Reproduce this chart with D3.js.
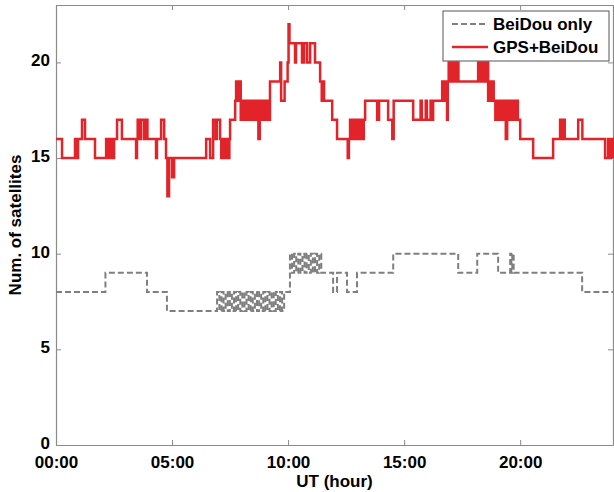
<!DOCTYPE html>
<html>
<head>
<meta charset="utf-8">
<script src="https://cdn.jsdelivr.net/npm/d3@7"></script>
<style>
  html, body { margin: 0; padding: 0; background: #fff; }
  svg { display: block; font-family: "Liberation Sans", Arial, sans-serif; }
</style>
</head>
<body>
<div id="svgOutput"></div>
<script>
// data: step change points (hour, number of satellites)

const gpsTimes = [0, 0.26, 0.82, 0.90, 0.95, 1.12, 1.25, 1.68, 2.16, 2.22, 2.28, 2.34, 2.40, 2.46, 2.50, 2.63, 2.84,
  3.45, 3.49, 3.52, 3.62, 3.66, 3.79, 3.88, 3.94, 4.31, 4.35, 4.53, 4.66, 4.74, 4.80, 4.87, 5.00, 5.09,
  6.47, 6.64, 6.77, 6.88, 6.93, 7.07, 7.12, 7.17, 7.22, 7.27, 7.32, 7.37, 7.42, 7.47, 7.50,
  7.72, 7.76, 7.80, 7.84, 7.88, 7.92, 7.96, 8.00, 8.05, 8.10, 8.15, 8.20, 8.25, 8.30, 8.35, 8.40, 8.45, 8.50,
  8.56, 8.62, 8.72, 8.78, 8.84, 8.90, 8.95, 9.00, 9.05, 9.10, 9.15, 9.22,
  9.66, 9.70, 9.85, 9.98, 10.02, 10.06, 10.30, 10.34, 10.60, 10.69, 10.82, 10.95, 11.16, 11.38, 11.45, 11.50, 11.55,
  11.90, 12.11, 12.57, 12.62, 12.67, 12.72, 12.78, 12.84, 12.90, 12.96, 13.02, 13.08, 13.14, 13.20, 13.26, 13.32,
  13.84, 13.92, 14.31, 14.49, 14.55, 15.39, 15.71, 15.76, 15.93, 15.98, 16.14, 16.19, 16.25,
  16.64, 16.70, 16.76, 16.82, 16.85, 16.88, 16.92, 16.98, 17.04, 17.10, 17.16, 17.22, 17.28, 17.34,
  18.19, 18.25, 18.31, 18.37, 18.43, 18.49, 18.55, 18.62, 18.68, 18.74, 18.80, 18.86, 18.93, 18.99, 19.05, 19.12,
  19.22, 19.30, 19.38, 19.44, 19.52, 19.60, 19.70, 19.80, 19.90, 20.00, 20.56, 21.42, 21.72, 21.78, 21.84, 21.92,
  22.50, 22.68, 23.66, 23.79, 23.85, 23.91, 24];
const gpsValues = [16, 15, 16, 15, 16, 17, 16, 15, 16, 15, 16, 15, 16, 15, 16, 17, 16,
  15, 16, 17, 16, 17, 16, 17, 16, 15, 16, 17, 16, 15, 13, 15, 14, 15,
  16, 15, 17, 16, 17, 16, 15, 16, 15, 16, 15, 16, 15, 16, 17,
  18, 19, 18, 19, 18, 19, 17, 18, 17, 18, 17, 18, 17, 18, 17, 18, 17, 18,
  17, 18, 16, 18, 17, 18, 17, 18, 17, 18, 17, 19,
  20, 18, 19, 20, 22, 21, 20, 21, 20, 21, 20, 21, 20, 19, 18, 19, 18,
  17, 16, 15, 16, 17, 16, 17, 16, 17, 16, 17, 16, 17, 16, 17, 18,
  17, 18, 17, 16, 18, 17, 18, 17, 18, 17, 18, 17, 18,
  19, 18, 19, 18, 17, 19, 20, 19, 20, 19, 20, 19, 20, 19,
  20, 19, 20, 19, 20, 19, 20, 18, 19, 18, 19, 18, 17, 18, 17, 18,
  17, 18, 16, 18, 17, 18, 17, 18, 17, 16, 15, 16, 17, 16, 17, 16,
  17, 16, 15, 16, 15, 16, 15];

const bdsTimes = [0, 2.13, 3.92, 4.78,
  6.94, 7.04, 7.13, 7.22, 7.31, 7.40, 7.49, 7.58, 7.67, 7.76, 7.85, 7.94, 8.03, 8.12, 8.21, 8.30,
  8.39, 8.48, 8.57, 8.66, 8.75, 8.84, 8.93, 9.02, 9.11, 9.20, 9.29, 9.38, 9.47, 9.56, 9.65, 9.74, 9.83,
  9.96, 10.08, 10.17, 10.26, 10.35, 10.44, 10.53, 10.62, 10.71, 10.80, 10.89, 10.98, 11.07, 11.16, 11.25, 11.34, 11.43,
  11.51, 11.94, 12.11, 12.54, 12.97, 14.53, 17.33, 18.15, 19.05, 19.57, 19.62, 19.66, 19.72, 22.67, 24];
const bdsValues = [8, 9, 8, 7,
  8, 7, 8, 7, 8, 7, 8, 7, 8, 7, 8, 7, 8, 7, 8, 7,
  8, 7, 8, 7, 8, 7, 8, 7, 8, 7, 8, 7, 8, 7, 8, 7, 8,
  8, 10, 9, 10, 9, 10, 9, 10, 9, 10, 9, 10, 9, 10, 9, 10, 9,
  9, 8, 9, 8, 9, 10, 9, 10, 9, 10, 9, 10, 9, 8, 8];

const xTickValues = [0, 5, 10, 15, 20];
const xTickLabels = ["00:00", "05:00", "10:00", "15:00", "20:00"];
const yTickValues = [0, 5, 10, 15, 20];
const legendNames = ["BeiDou only", "GPS+BeiDou"];

// config

const width = 614;
const height = 492;
const margin = { top: 5, right: 1, bottom: 47, left: 56 };

const gpsData = gpsTimes.map((t, i) => ({ t: t, v: gpsValues[i] }));
const bdsData = bdsTimes.map((t, i) => ({ t: t, v: bdsValues[i] }));

// scales

const xScale = d3.scaleLinear()
  .domain([0, 24])
  .range([margin.left, width - margin.right]);

const yScale = d3.scaleLinear()
  .domain([0, 23])
  .range([height - margin.bottom, margin.top]);

const svg = d3.select("#svgOutput")
  .append("svg")
  .attr("width", width)
  .attr("height", height)
  .attr("viewBox", [0, 0, width, height]);

const axisColor = "#8a8a8a";

// axes, matlab box style with inward ticks

const xAxis = d3.axisBottom(xScale)
  .tickValues(xTickValues)
  .tickFormat((d, i) => xTickLabels[i])
  .tickSizeInner(-5)
  .tickSizeOuter(0)
  .tickPadding(11);

const gx = svg.append("g")
  .attr("transform", "translate(0," + (height - margin.bottom) + ")")
  .call(xAxis);

const yAxis = d3.axisLeft(yScale)
  .tickValues(yTickValues)
  .tickSizeInner(-5)
  .tickSizeOuter(0)
  .tickPadding(6);

const gy = svg.append("g")
  .attr("transform", "translate(" + margin.left + ",0)")
  .call(yAxis);

const gTop = svg.append("g")
  .attr("transform", "translate(0," + margin.top + ")")
  .call(d3.axisTop(xScale).tickValues(xTickValues).tickFormat("").tickSizeInner(-5).tickSizeOuter(0));

const gRight = svg.append("g")
  .attr("transform", "translate(" + (width - margin.right) + ",0)")
  .call(d3.axisRight(yScale).tickValues(yTickValues).tickFormat("").tickSizeInner(-5).tickSizeOuter(0));

[gx, gy, gTop, gRight].forEach(g => {
  g.selectAll(".domain").attr("stroke", axisColor).attr("stroke-width", 1.2);
  g.selectAll(".tick line").attr("stroke", axisColor);
  g.selectAll(".tick text")
    .attr("fill", "#000")
    .attr("font-size", 17)
    .attr("font-weight", "bold");
});

// matlab lifts the zero label a little off the x labels
gy.selectAll(".tick text").attr("dy", "0.2em");

// lines

const line = d3.line()
  .x(d => xScale(d.t))
  .y(d => yScale(d.v))
  .curve(d3.curveStepAfter);

svg.append("path")
  .attr("d", line(gpsData))
  .attr("fill", "none")
  .attr("stroke", "#e3232a")
  .attr("stroke-width", 2.5)
  .attr("stroke-linejoin", "miter");

svg.append("path")
  .attr("d", line(bdsData))
  .attr("fill", "none")
  .attr("stroke", "#7f7f7f")
  .attr("stroke-width", 2)
  .attr("stroke-dasharray", "6,3");

// axis titles

svg.append("text")
  .attr("x", (xScale(0) + xScale(24)) / 2)
  .attr("y", 487)
  .attr("text-anchor", "middle")
  .attr("font-size", 17)
  .attr("font-weight", "bold")
  .text("UT (hour)");

svg.append("text")
  .attr("transform", "translate(21," + ((yScale(0) + yScale(23)) / 2) + ") rotate(-90)")
  .attr("text-anchor", "middle")
  .attr("font-size", 17)
  .attr("font-weight", "bold")
  .text("Num. of satellites");

// legend

const legend = svg.append("g").attr("transform", "translate(443,11)");

legend.append("rect")
  .attr("width", 166)
  .attr("height", 50)
  .attr("fill", "#fff")
  .attr("stroke", "#555")
  .attr("stroke-width", 1);

const legendStyles = [
  { stroke: "#7f7f7f", width: 2, dash: "6,3" },
  { stroke: "#e3232a", width: 2.5, dash: null }
];

legendNames.forEach((name, i) => {
  const yy = 13 + i * 23;
  legend.append("line")
    .attr("x1", 9).attr("x2", 45)
    .attr("y1", yy).attr("y2", yy)
    .attr("stroke", legendStyles[i].stroke)
    .attr("stroke-width", legendStyles[i].width)
    .attr("stroke-dasharray", legendStyles[i].dash);
  legend.append("text")
    .attr("x", 50)
    .attr("y", yy + 6)
    .attr("font-size", 17)
    .attr("font-weight", "bold")
    .text(name);
});
</script>
</body>
</html>
